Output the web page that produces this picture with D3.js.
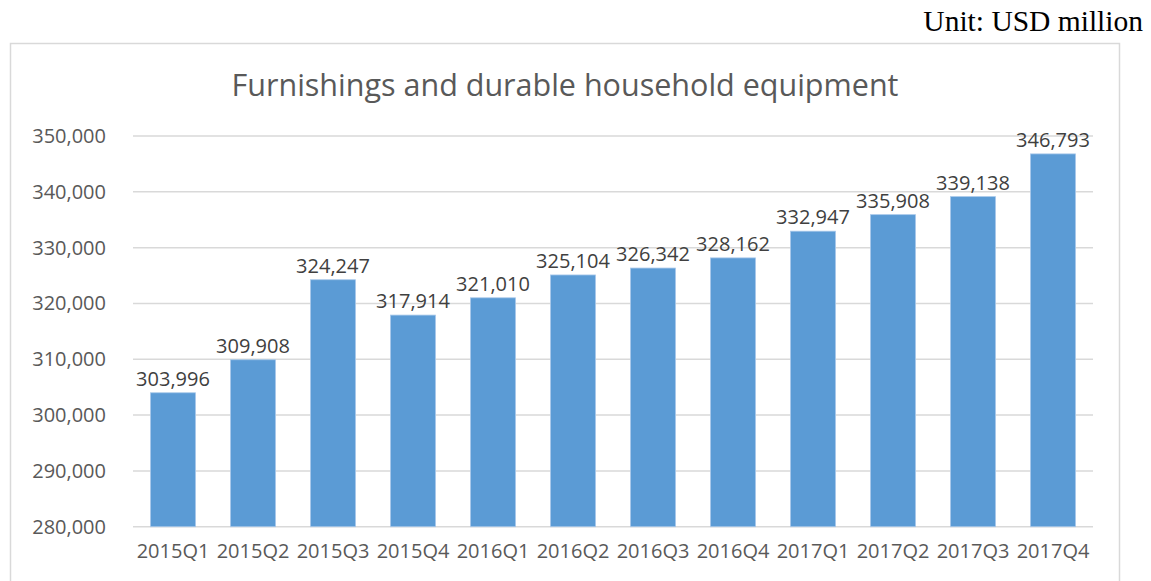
<!DOCTYPE html>
<html>
<head>
<meta charset="utf-8">
<script src="https://cdn.jsdelivr.net/npm/d3@7"></script>
<style>
  html, body { margin: 0; padding: 0; background: #fff; }
  svg { display: block; }
</style>
</head>
<body>
<svg id="chart" width="1151" height="581"></svg>
<script>
// Quarterly spending on furnishings and durable household equipment (USD million)
const quarters = ["2015Q1","2015Q2","2015Q3","2015Q4","2016Q1","2016Q2","2016Q3","2016Q4","2017Q1","2017Q2","2017Q3","2017Q4"];
const values = [303996, 309908, 324247, 317914, 321010, 325104, 326342, 328162, 332947, 335908, 339138, 346793];
const yTicks = [280000, 290000, 300000, 310000, 320000, 330000, 340000, 350000];
const titleText = "Furnishings and durable household equipment";
const unitText = "Unit: USD million";

const svg = d3.select("#chart");
const font = "'Open Sans', 'Noto Sans', sans-serif";
const textColor = "#595959";
const gridColor = "#d9d9d9";
const barColor = "#5b9bd5";

// Outer chart frame
svg.append("rect")
  .attr("x", 10.5).attr("y", 43.5)
  .attr("width", 1109).attr("height", 600)
  .attr("fill", "#fff")
  .attr("stroke", gridColor).attr("stroke-width", 1.5);

// Unit note above the frame
svg.append("text")
  .attr("x", 1143).attr("y", 31)
  .attr("text-anchor", "end")
  .attr("font-family", "'Liberation Serif', 'Times New Roman', serif")
  .attr("font-size", 29.5)
  .attr("fill", "#000")
  .text(unitText);

// Title
svg.append("text")
  .attr("x", 565).attr("y", 96)
  .attr("text-anchor", "middle")
  .attr("font-family", font)
  .attr("font-size", 30.5)
  .attr("fill", textColor)
  .text(titleText);

const plot = { left: 133, right: 1093, top: 136, bottom: 526.7 };

const x = d3.scaleBand()
  .domain(quarters)
  .range([plot.left, plot.right])
  .paddingInner(0.4375)
  .paddingOuter(0.21875);

const y = d3.scaleLinear()
  .domain([280000, 350000])
  .range([plot.bottom, plot.top]);

const fmt = d3.format(",");

// Horizontal gridlines
svg.append("g")
  .selectAll("line")
  .data(yTicks)
  .join("line")
  .attr("x1", plot.left).attr("x2", plot.right)
  .attr("y1", d => y(d)).attr("y2", d => y(d))
  .attr("stroke", gridColor).attr("stroke-width", 1.5);

// Y axis labels
const yAxis = d3.axisLeft(y).tickValues(yTicks).tickFormat(fmt).tickSize(0).tickPadding(0);
const gy = svg.append("g")
  .attr("transform", `translate(${plot.left - 27},0)`)
  .call(yAxis);
gy.select(".domain").remove();
gy.selectAll("text")
  .attr("font-family", font).attr("font-size", 20)
  .attr("fill", textColor);

// X axis labels
const xAxis = d3.axisBottom(x).tickSize(0).tickPadding(0);
const gx = svg.append("g")
  .attr("transform", `translate(0,${plot.bottom + 17})`)
  .call(xAxis);
gx.select(".domain").remove();
gx.selectAll("text")
  .attr("font-family", font).attr("font-size", 20)
  .attr("fill", textColor);

// Bars
svg.append("g")
  .selectAll("rect")
  .data(values)
  .join("rect")
  .attr("x", (d, i) => x(quarters[i]))
  .attr("y", d => y(d))
  .attr("width", x.bandwidth())
  .attr("height", d => plot.bottom - y(d))
  .attr("fill", barColor)
  .attr("stroke", "#a8c8ea").attr("stroke-width", 0.8);

// Value labels above bars
svg.append("g")
  .selectAll("text")
  .data(values)
  .join("text")
  .attr("x", (d, i) => x(quarters[i]) + x.bandwidth() / 2)
  .attr("y", d => y(d) - 7)
  .attr("text-anchor", "middle")
  .attr("font-family", font).attr("font-size", 20)
  .attr("fill", "#404040")
  .text(d => fmt(d));
</script>
</body>
</html>
